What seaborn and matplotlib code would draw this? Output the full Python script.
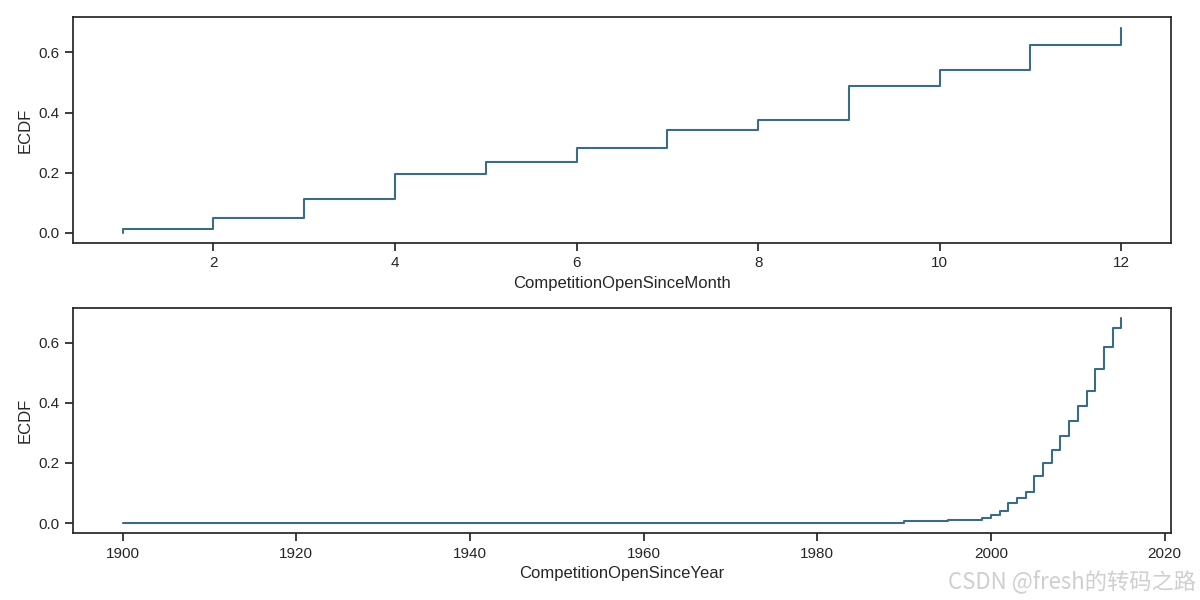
import pandas as pd
import seaborn as sns
import matplotlib.pyplot as plt

# ECDF (share of all stores, missing values count in the total)
months = [1, 2, 3, 4, 5, 6, 7, 8, 9, 10, 11, 12]
month_ecdf = [0.0126, 0.049, 0.112, 0.196, 0.236, 0.281, 0.341, 0.376, 0.488, 0.543, 0.625, 0.6825]

years = [1900, 1961, 1990, 1994, 1995, 1998, 1999, 2000, 2001, 2002, 2003, 2004,
         2005, 2006, 2007, 2008, 2009, 2010, 2011, 2012, 2013, 2014, 2015]
year_ecdf = [0.0009, 0.0018, 0.0063, 0.0081, 0.0099, 0.0108, 0.0179, 0.0269, 0.0413,
             0.0655, 0.0825, 0.102, 0.158, 0.200, 0.243, 0.291, 0.340, 0.389, 0.438,
             0.511, 0.586, 0.648, 0.6825]

line_color = '#3a6d83'

sns.set_theme(style='ticks')
plt.rcParams['font.family'] = ['Liberation Sans', 'DejaVu Sans']


def step_frame(xs, ys):
    # start at 0 on the first value, then rise at each observed value
    return pd.DataFrame({'x': [xs[0]] + list(xs), 'ecdf': [0.0] + list(ys)})


fig, (ax1, ax2) = plt.subplots(2, 1, figsize=(12, 6), dpi=100)

sns.lineplot(data=step_frame(months, month_ecdf), x='x', y='ecdf', ax=ax1,
             estimator=None, sort=False, drawstyle='steps-post',
             color=line_color, linewidth=1.5)
ax1.set_xlabel('CompetitionOpenSinceMonth')
ax1.set_ylabel('ECDF')

sns.lineplot(data=step_frame(years, year_ecdf), x='x', y='ecdf', ax=ax2,
             estimator=None, sort=False, drawstyle='steps-post',
             color=line_color, linewidth=1.5)
ax2.set_xlabel('CompetitionOpenSinceYear')
ax2.set_ylabel('ECDF')

for ax in (ax1, ax2):
    for side in ['top', 'right', 'left', 'bottom']:
        ax.spines[side].set_visible(True)

fig.subplots_adjust(left=0.0606, right=0.976, top=0.971, bottom=0.111, hspace=0.285)

fig.text(0.997, 0.012, 'CSDN @fresh的转码之路', ha='right', va='bottom',
         fontsize=16, color='#cfcfcf',
         family=['Noto Sans CJK SC', 'DejaVu Sans'])

fig.savefig('out.png', dpi=100)
